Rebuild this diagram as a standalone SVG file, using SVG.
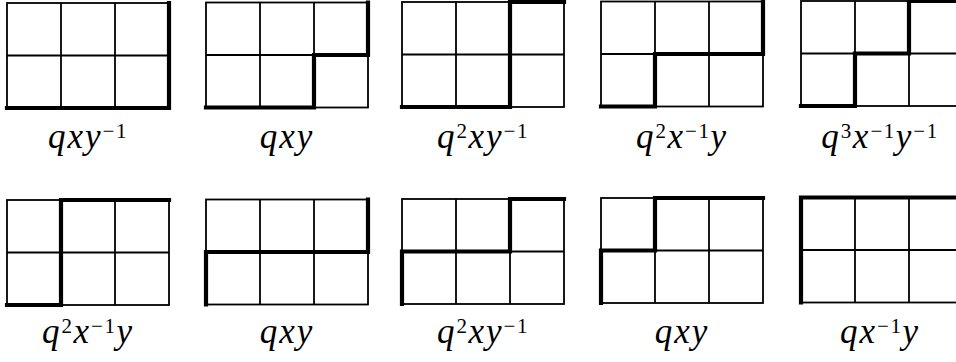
<svg xmlns="http://www.w3.org/2000/svg" xmlns:xlink="http://www.w3.org/1999/xlink" width="956" height="362" viewBox="0 0 956 362">
<style>
.thin{fill:none;stroke:#000;stroke-width:1.8}
.thick{fill:none;stroke:#000;stroke-width:4.2;stroke-linecap:square;stroke-linejoin:miter}
text{font-family:"Liberation Serif","Times New Roman",serif;fill:#000}
.lab{font-size:35px;text-anchor:middle}
.v{font-style:italic;letter-spacing:2px}
.s{font-size:21px;font-style:normal;letter-spacing:1.5px}
</style>
<defs>
<g id="grid" class="thin">
<rect x="0" y="0" width="162" height="105"/>
<line x1="54" y1="0" x2="54" y2="105"/>
<line x1="108" y1="0" x2="108" y2="105"/>
<line x1="0" y1="52.5" x2="162" y2="52.5"/>
</g>
</defs>
<rect width="956" height="362" fill="#fff"/>
<g id="g1" transform="translate(7,3)"><use xlink:href="#grid"/><path class="thick" d="M162,0 V105 H0"/></g>
<g id="g2" transform="translate(206,2.5)"><use xlink:href="#grid"/><path class="thick" d="M162,0 V52.5 H108 V105 H0"/></g>
<g id="g3" transform="translate(402,2)"><use xlink:href="#grid"/><path class="thick" d="M162,0 H108 V105 H0"/></g>
<g id="g4" transform="translate(601,1.5)"><use xlink:href="#grid"/><path class="thick" d="M162,0 V52.5 H54 V105 H0"/></g>
<g id="g5" transform="translate(801,1)"><use xlink:href="#grid"/><path class="thick" d="M162,0 H108 V52.5 H54 V105 H0"/></g>
<g id="g6" transform="translate(7,200)"><use xlink:href="#grid"/><path class="thick" d="M162,0 H54 V105 H0"/></g>
<g id="g7" transform="translate(206,199.5)"><use xlink:href="#grid"/><path class="thick" d="M162,0 V52.5 H0 V105"/></g>
<g id="g8" transform="translate(402,199)"><use xlink:href="#grid"/><path class="thick" d="M162,0 H108 V52.5 H0 V105"/></g>
<g id="g9" transform="translate(601,198)"><use xlink:href="#grid"/><path class="thick" d="M162,0 H54 V52.5 H0 V105"/></g>
<g id="g10" transform="translate(801,197.5)"><use xlink:href="#grid"/><path class="thick" d="M162,0 H0 V105"/></g>
<g id="labels">
<text class="lab" x="88" y="148"><tspan class="v">qxy</tspan><tspan class="s" dy="-10">−1</tspan></text>
<text class="lab" x="287" y="148"><tspan class="v">qxy</tspan></text>
<text class="lab" x="483" y="148"><tspan class="v">q</tspan><tspan class="s" dy="-10">2</tspan><tspan class="v" dy="10">xy</tspan><tspan class="s" dy="-10">−1</tspan></text>
<text class="lab" x="682" y="148"><tspan class="v">q</tspan><tspan class="s" dy="-10">2</tspan><tspan class="v" dy="10">x</tspan><tspan class="s" dy="-10">−1</tspan><tspan class="v" dy="10">y</tspan></text>
<text class="lab" x="880" y="148"><tspan class="v">q</tspan><tspan class="s" dy="-10">3</tspan><tspan class="v" dy="10">x</tspan><tspan class="s" dy="-10">−1</tspan><tspan class="v" dy="10">y</tspan><tspan class="s" dy="-10">−1</tspan></text>
<text class="lab" x="88" y="343"><tspan class="v">q</tspan><tspan class="s" dy="-10">2</tspan><tspan class="v" dy="10">x</tspan><tspan class="s" dy="-10">−1</tspan><tspan class="v" dy="10">y</tspan></text>
<text class="lab" x="287" y="343"><tspan class="v">qxy</tspan></text>
<text class="lab" x="483" y="343"><tspan class="v">q</tspan><tspan class="s" dy="-10">2</tspan><tspan class="v" dy="10">xy</tspan><tspan class="s" dy="-10">−1</tspan></text>
<text class="lab" x="682" y="343"><tspan class="v">qxy</tspan></text>
<text class="lab" x="880" y="343"><tspan class="v">qx</tspan><tspan class="s" dy="-10">−1</tspan><tspan class="v" dy="10">y</tspan></text>
</g>
</svg>
